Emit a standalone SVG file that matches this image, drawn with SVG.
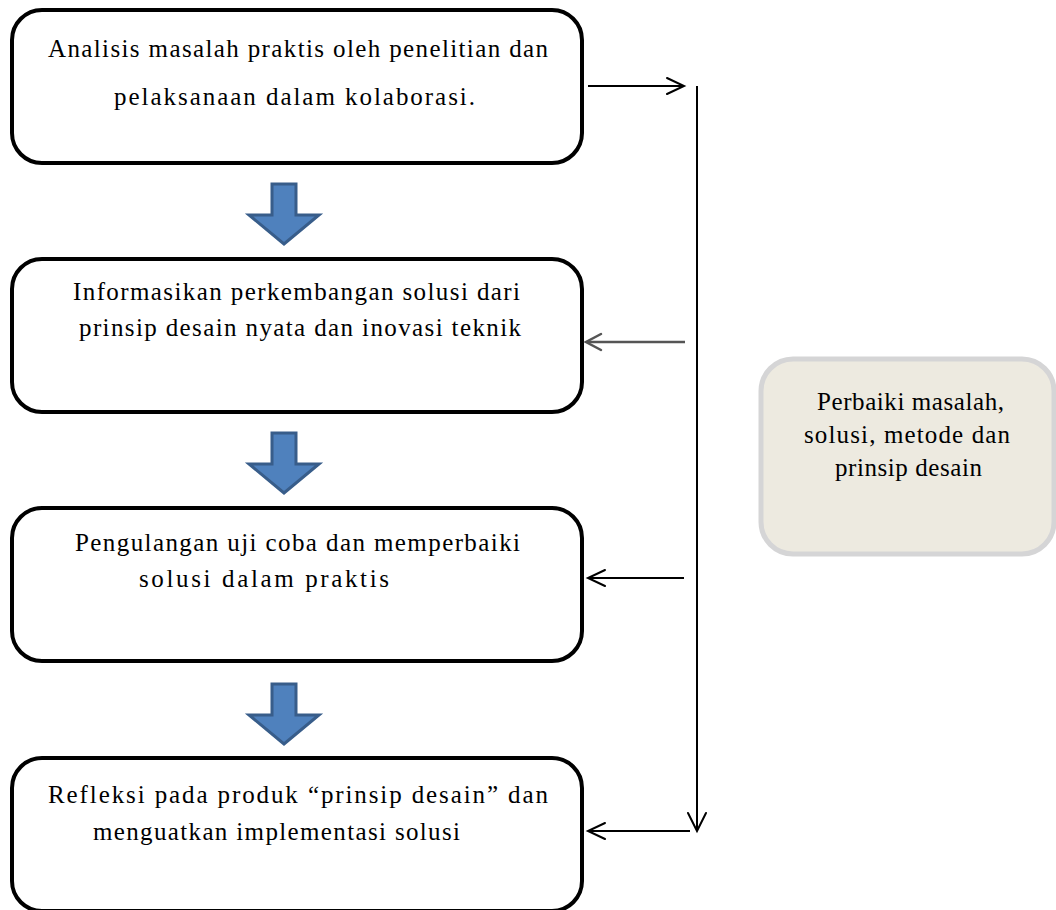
<svg xmlns="http://www.w3.org/2000/svg" width="1056" height="910" viewBox="0 0 1056 910">
<style>
.box{fill:#fff;stroke:#000;stroke-width:4}
.t{font-family:"Liberation Serif","Times New Roman",serif;font-size:25px;fill:#000}
.blue{fill:#4F81BD;stroke:#385D8A;stroke-width:3;stroke-linejoin:miter}
.ln{stroke:#000;stroke-width:2;fill:none}
.hd{stroke:#000;stroke-width:2;fill:none;stroke-linecap:round;stroke-linejoin:miter}
</style>
<rect width="1056" height="910" fill="#fff"/>
<g id="n1">
<rect class="box" x="12" y="10" width="570" height="153" rx="30"/>
<text class="t" x="48" y="57" textLength="500" lengthAdjust="spacing">Analisis masalah praktis oleh penelitian dan</text>
<text class="t" x="114" y="105" textLength="361" lengthAdjust="spacing">pelaksanaan dalam kolaborasi.</text>
</g>
<g id="n2">
<rect class="box" x="12" y="259" width="570" height="153" rx="30"/>
<text class="t" x="73" y="300" textLength="447" lengthAdjust="spacing">Informasikan perkembangan solusi dari</text>
<text class="t" x="79" y="336" textLength="442" lengthAdjust="spacing">prinsip desain nyata dan inovasi teknik</text>
</g>
<g id="n3">
<rect class="box" x="12" y="508" width="570" height="153" rx="30"/>
<text class="t" x="75" y="551" textLength="445" lengthAdjust="spacing">Pengulangan uji coba dan memperbaiki</text>
<text class="t" x="139" y="587" textLength="250" lengthAdjust="spacing">solusi dalam praktis</text>
</g>
<g id="n4">
<rect class="box" x="12" y="758" width="570" height="153" rx="30"/>
<text class="t" x="48" y="803" textLength="500" lengthAdjust="spacing">Refleksi pada produk “prinsip desain” dan</text>
<text class="t" x="93" y="840" textLength="367" lengthAdjust="spacing">menguatkan implementasi solusi</text>
</g>
<g id="n5">
<rect x="761" y="359" width="293" height="195" rx="32" fill="#EDEAE0" stroke="#D5D5D6" stroke-width="5"/>
<text class="t" x="817" y="410" textLength="187" lengthAdjust="spacing">Perbaiki masalah,</text>
<text class="t" x="804" y="443" textLength="206" lengthAdjust="spacing">solusi, metode dan</text>
<text class="t" x="835" y="476" textLength="147" lengthAdjust="spacing">prinsip desain</text>
</g>
<g id="connectors">
<path class="blue" d="M272,184 H296 V215 H319 L284,244 L249,215 H272 Z"/>
<path class="blue" d="M272,433 H296 V464 H319 L284,493 L249,464 H272 Z"/>
<path class="blue" d="M272,684 H296 V715 H319 L284,744 L249,715 H272 Z"/>
<line class="ln" x1="697" y1="86" x2="697" y2="830"/>
<path class="hd" d="M688,813 L697,831 L706,813"/>
<line class="ln" x1="588" y1="86" x2="683" y2="86"/>
<path class="hd" d="M667,78 L684,86 L667,94"/>
<line x1="588" y1="342" x2="685" y2="342" stroke="#555" stroke-width="2.5"/>
<path d="M601,334 L586,342 L601,350" fill="none" stroke="#555" stroke-width="2.5" stroke-linecap="round"/>
<line class="ln" x1="589" y1="578" x2="684" y2="578"/>
<path class="hd" d="M605,570 L588,578 L605,586"/>
<line class="ln" x1="589" y1="831" x2="690" y2="831"/>
<path class="hd" d="M605,823 L588,831 L605,839"/>
</g>
</svg>
